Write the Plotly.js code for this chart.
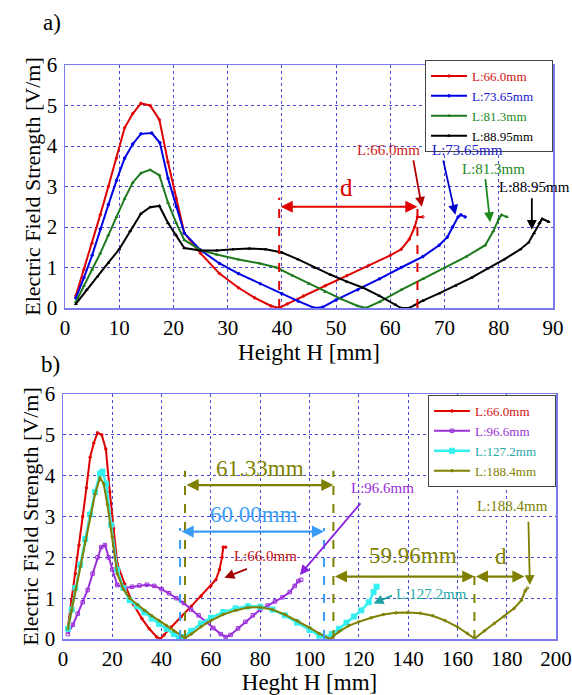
<!DOCTYPE html>
<html><head><meta charset="utf-8">
<script src="https://cdn.plot.ly/plotly-3.0.1.min.js"></script>
<style>html,body{margin:0;padding:0;background:#fff}#chart{width:572px;height:695px}</style>
</head><body><div id="chart"></div>
<script>
// ---------- Panel a) data ----------
const aRedX = [2,3.5,5,6.5,8,9.5,11,12.5,14,15.7,17.4,19,20.5,22,25,28.5,32,35,38,39.5,41,44,48,52,56,60,62,63.5,64.5,65,66];
const aRedY = [0.3,0.95,1.6,2.3,3.0,3.7,4.45,4.8,5.05,5.0,4.65,3.6,2.7,1.85,1.35,0.85,0.5,0.25,0.05,0.0,0.1,0.3,0.55,0.8,1.05,1.3,1.45,1.7,2.0,2.25,2.25];
const aBlueX = [2,3.5,5,6.5,8,9.5,11,12.5,14,16,17.5,19,20.5,22,25,28.5,32,36,40,43,46,47.5,50,54,58,62,66,69,70.5,71.5,72.5,73,73.8];
const aBlueY = [0.25,0.75,1.3,1.95,2.55,3.15,3.7,4.05,4.3,4.32,4.08,3.2,2.5,1.85,1.43,1.1,0.85,0.6,0.35,0.17,0.0,0.02,0.2,0.45,0.72,1.0,1.27,1.55,1.75,2.0,2.25,2.3,2.25];
const aGreenX = [2,3.5,5,6.5,8,9.5,11,12.5,14,15.7,17.4,19,20.5,22,25,28,32,36,39,42,45,48,51,54,55.5,58,62,66,70,74,77.5,79,80,80.5,81.5];
const aGreenY = [0.15,0.55,0.95,1.35,1.8,2.25,2.7,3.1,3.33,3.41,3.28,2.6,2.1,1.68,1.43,1.32,1.2,1.1,1.0,0.8,0.6,0.4,0.22,0.05,0.0,0.15,0.45,0.72,1.0,1.27,1.55,1.9,2.2,2.3,2.25];
const aBlackX = [2,4,6,8,10,12,14,15.7,17.4,19,20.5,22,25,28,31,34,37,40,43,46,49,52,55,58,61,62,63.5,66,69,72,75,78,81,84,85.5,86.5,87.5,88,89.2];
const aBlackY = [0.1,0.45,0.78,1.12,1.45,1.9,2.33,2.49,2.52,2.1,1.8,1.48,1.42,1.42,1.45,1.47,1.45,1.37,1.2,1.0,0.82,0.65,0.5,0.3,0.08,0.0,0.0,0.18,0.36,0.55,0.75,0.98,1.2,1.45,1.62,1.85,2.1,2.2,2.13];
const aNames = ['L:66.0mm','L:73.65mm','L:81.3mm','L:88.95mm'];

// ---------- Panel b) data ----------
const bRedX = aRedX, bRedY = aRedY;
const bPurX = [2,4,6,8,10,12,14,15.5,17,18.5,20,22,25,28,31,34,37,40,43,46,49,52,55,58,61,64,66,68,71,74,77,80,83,86,89,92,94,95.5,96.6];
const bPurY = [0.12,0.35,0.62,0.9,1.2,1.6,2.0,2.25,2.3,2.0,1.7,1.32,1.25,1.28,1.31,1.33,1.3,1.22,1.12,1.0,0.88,0.72,0.58,0.42,0.27,0.12,0.05,0.1,0.26,0.42,0.58,0.72,0.82,0.92,1.02,1.15,1.3,1.42,1.45];
const bCyanX = [2,3.5,5,7,9,11,13,15,16,17.5,19.5,22,24.5,27,30,33,36,39,42,45,47,49,52,56,60,65,70,75,80,85,90,95,100,104,106.5,109,112,115,118,121,124,126,127.2];
const bCyanY = [0.25,0.72,1.25,1.82,2.45,3.05,3.6,4.05,4.1,3.8,2.8,1.7,1.25,0.95,0.8,0.65,0.5,0.37,0.25,0.12,0.02,0.05,0.2,0.38,0.52,0.66,0.75,0.8,0.79,0.72,0.58,0.4,0.22,0.08,0.03,0.12,0.25,0.4,0.55,0.7,0.9,1.15,1.28];
const bOliveX = [2,3.5,5,7,9,11,13,15,16.5,18,20,22,24.5,27,30,33,36,39,42,45,48,49.5,52,56,60,65,70,75,80,85,90,95,100,104,108.3,112,116,120,125,130,135,140,145,150,155,160,164,167,171,175,179,183,186,187.5,188.4];
const bOliveY = [0.25,0.7,1.2,1.78,2.4,3.0,3.55,3.95,3.8,3.3,2.5,1.6,1.22,1.0,0.85,0.7,0.57,0.45,0.33,0.2,0.08,0.02,0.12,0.3,0.45,0.6,0.7,0.77,0.78,0.72,0.6,0.45,0.28,0.13,0.0,0.18,0.33,0.42,0.52,0.6,0.64,0.65,0.63,0.57,0.45,0.3,0.14,0.01,0.2,0.38,0.55,0.75,0.95,1.18,1.25];
const bNames = ['L:66.0mm','L:96.6mm','L:127.2mm','L:188.4mm'];

// ---------- tick labels ----------
const aXTicks = [0,10,20,30,40,50,60,70,80,90];
const bXTicks = [0,20,40,60,80,100,120,140,160,180,200];
const yTicks = [0,1,2,3,4,5,6];

const FONT = 'Liberation Serif';
const C = {red:'#e00000', blue:'#0000e6', green:'#1d7a1d', black:'#000000',
           purple:'#9a30d8', cyan:'#33f0f0', olive:'#7f7f00', lblue:'#3a9cf5', teal:'#1ea8a8'};
const NB = '\u00A0';

function tr(x, y, name, color, txtColor, symbol, size, xa, ya, leg, lw) {
  return {x:x, y:y, type:'scatter', mode:'lines+markers', xaxis:xa, yaxis:ya, legend:leg,
    name:'<span style="color:'+txtColor+'">'+name+'</span>'+NB.repeat(4),
    line:{color:color, width:lw||2}, marker:{symbol:symbol, size:size, color:color, line:{color:color,width:1}},
    cliponaxis:false};
}

const traces = [
  tr(aRedX,aRedY,aNames[0],C.red,'#d01010','circle-open',2.5,'x','y','legend'),
  tr(aBlueX,aBlueY,aNames[1],C.blue,'#1010d0','circle',2.5,'x','y','legend'),
  tr(aGreenX,aGreenY,aNames[2],C.green,'#1d8a1d','triangle-up-open',2.5,'x','y','legend'),
  tr(aBlackX,aBlackY,aNames[3],C.black,'#000','triangle-up',2.5,'x','y','legend'),
  tr(bRedX,bRedY,bNames[0],C.red,'#d01010','circle',2.5,'x2','y2','legend2'),
  tr(bPurX,bPurY,bNames[1],C.purple,'#9a30d8','square-open',3.5,'x2','y2','legend2'),
  tr(bCyanX,bCyanY,bNames[2],C.cyan,'#1ea8a8','square',5,'x2','y2','legend2',2.5),
  tr(bOliveX,bOliveY,bNames[3],C.olive,'#7f7f00','circle-open',2.5,'x2','y2','legend2')
];

const dTop = {x0:39.5, x1:65, y:2.5, top0:2.72, top1:2.55};
const bDims = {
  olive1:{x0:49.5, x1:109.7, y:3.77, top:4.12},
  blue:{x0:47.5, x1:105.9, y:2.63, top:2.72},
  olive2:{x0:109.7, x1:166.9, y:1.53, top:1.72},
  dB:{x0:166.9, x1:187.2, y:1.53}
};
function vline(x, top, color, xr, yr){
  return {type:'line', xref:xr, yref:yr, x0:x, x1:x, y0:0, y1:top, line:{color:color, width:2, dash:'dash'}};
}
const shapes = [
  vline(dTop.x0, dTop.top0, C.red,'x','y'), vline(dTop.x1, dTop.top1, C.red,'x','y'),
  vline(bDims.olive1.x0, bDims.olive1.top, C.olive,'x2','y2'), vline(bDims.olive1.x1, bDims.olive1.top, C.olive,'x2','y2'),
  vline(bDims.blue.x0, bDims.blue.top, C.lblue,'x2','y2'), vline(bDims.blue.x1, bDims.blue.top, C.lblue,'x2','y2'),
  vline(bDims.olive2.x1, bDims.olive2.top, C.olive,'x2','y2')
];
function dbl(x0, x1, y, color, xr, yr){
  return {xref:xr, yref:yr, axref:xr, ayref:yr, x:x1, y:y, ax:x0, ay:y, text:'', showarrow:true,
    arrowside:'end+start', arrowhead:2, arrowsize:1.1, arrowwidth:2.2, arrowcolor:color};
}
function arr(x0, y0, x1, y1, color, xr, yr){
  return {xref:xr, yref:yr, axref:xr, ayref:yr, x:x1, y:y1, ax:x0, ay:y0, text:'', showarrow:true,
    arrowhead:2, arrowsize:1.1, arrowwidth:1.8, arrowcolor:color};
}
function txt(x, y, s, color, size, xr, yr){
  return {xref:xr, yref:yr, x:x, y:y, text:s, showarrow:false, xanchor:'center', yanchor:'middle', borderpad:0,
    font:{family:FONT, size:size, color:color}};
}
const annotations = [
  txt(0.091, 0.968, 'a)', '#000', 23, 'paper', 'paper'),
  txt(0.089, 0.475, 'b)', '#000', 23, 'paper', 'paper'),
  dbl(dTop.x0, dTop.x1, dTop.y, C.red, 'x', 'y'),
  txt(51.9, 2.98, 'd', C.red, 25, 'x', 'y'),
  txt(59.6, 3.9, aNames[0], '#cc2020', 15, 'x', 'y'),
  arr(64.2, 3.68, 65.8, 2.5, '#b00000', 'x', 'y'),
  txt(74.2, 3.9, aNames[1], '#1a1acc', 15, 'x', 'y'),
  arr(69.7, 3.68, 72.0, 2.3, '#0000cc', 'x', 'y'),
  txt(79.0, 3.44, aNames[2], '#1d8a1d', 15, 'x', 'y'),
  arr(77.5, 3.22, 78.4, 2.12, '#1d8a1d', 'x', 'y'),
  txt(86.5, 2.99, aNames[3], '#000', 15, 'x', 'y'),
  arr(86.1, 2.75, 86.1, 1.93, '#000', 'x', 'y'),
  dbl(bDims.olive1.x0, bDims.olive1.x1, bDims.olive1.y, C.olive, 'x2', 'y2'),
  txt(80.1, 4.18, '61.33mm', C.olive, 23, 'x2', 'y2'),
  dbl(bDims.blue.x0, bDims.blue.x1, bDims.blue.y, C.lblue, 'x2', 'y2'),
  txt(77.5, 3.06, '60.00mm', C.lblue, 23, 'x2', 'y2'),
  dbl(bDims.olive2.x0, bDims.olive2.x1, bDims.olive2.y, C.olive, 'x2', 'y2'),
  txt(141.8, 2.05, '59.96mm', C.olive, 23, 'x2', 'y2'),
  dbl(bDims.dB.x0, bDims.dB.x1, bDims.dB.y, C.olive, 'x2', 'y2'),
  txt(177.7, 2.03, 'd', C.olive, 23, 'x2', 'y2'),
  txt(82.2, 2.03, bNames[0], '#c01010', 15, 'x2', 'y2'),
  arr(75.2, 1.73, 65.5, 1.5, '#a00000', 'x2', 'y2'),
  txt(129.6, 3.71, bNames[1], '#9a30d8', 15, 'x2', 'y2'),
  arr(121.2, 3.36, 96.1, 1.57, '#8a20e0', 'x2', 'y2'),
  txt(149.5, 1.1, bNames[2], '#1ea8a8', 15, 'x2', 'y2'),
  arr(134, 1.08, 126, 0.87, '#1ea0a0', 'x2', 'y2'),
  txt(182.3, 3.26, bNames[3], C.olive, 15, 'x2', 'y2'),
  arr(188.8, 2.91, 189.4, 1.32, C.olive, 'x2', 'y2')
];

function xax(domain, ticks, range, title, anchor){
  return {domain:domain, range:range, tickvals:ticks, ticktext:ticks.map(String), anchor:anchor,
    showline:true, mirror:true, linecolor:'#7b7bec', linewidth:1.5, ticks:'',
    showgrid:true, gridcolor:'#4848d8', griddash:'dot', gridwidth:1, zeroline:false,
    tickfont:{family:FONT, size:21, color:'#000'}, automargin:false,
    title:{text:title, font:{family:FONT, size:23, color:'#000'}, standoff:0}};
}
function yax(domain, anchor){
  return {domain:domain, range:[0,6], tickvals:yTicks, ticktext:yTicks.map(String), anchor:anchor,
    showline:true, mirror:true, linecolor:'#7b7bec', linewidth:1.5, ticks:'', ticklabelstandoff:2,
    showgrid:true, gridcolor:'#4848d8', griddash:'dot', gridwidth:1, zeroline:false,
    tickfont:{family:FONT, size:21, color:'#000'}, automargin:false,
    title:{text:'Electric Field Strength [V/m]', font:{family:FONT, size:22, color:'#000'}, standoff:0}};
}
const legendBase = {bgcolor:'#fff', bordercolor:'#444', borderwidth:1, xanchor:'right', yanchor:'top',
  font:{family:FONT, size:13, color:'#000'}, tracegroupgap:0, itemwidth:36};

const layout = {
  width:572, height:695, margin:{l:0, r:0, t:0, b:0}, paper_bgcolor:'#fff', plot_bgcolor:'#fff',
  font:{family:FONT, color:'#000'},
  xaxis: xax([65/572, 553/572], aXTicks, [0,90], 'Height H [mm]'+NB+NB+NB, 'y'),
  yaxis: yax([1-308/695, 1-65/695], 'x'),
  xaxis2: xax([63/572, 556/572], bXTicks, [0,200], 'Heght H [mm]'+NB.repeat(10), 'y2'),
  yaxis2: yax([1-639/695, 1-394/695], 'x2'),
  legend: Object.assign({}, legendBase, {x:553/572, y:1-60/695}),
  legend2: Object.assign({}, legendBase, {x:556/572, y:1-395/695}),
  showlegend:true, shapes: shapes, annotations: annotations
};

Plotly.newPlot('chart', traces, layout, {displayModeBar:false, staticPlot:true});
</script></body></html>
